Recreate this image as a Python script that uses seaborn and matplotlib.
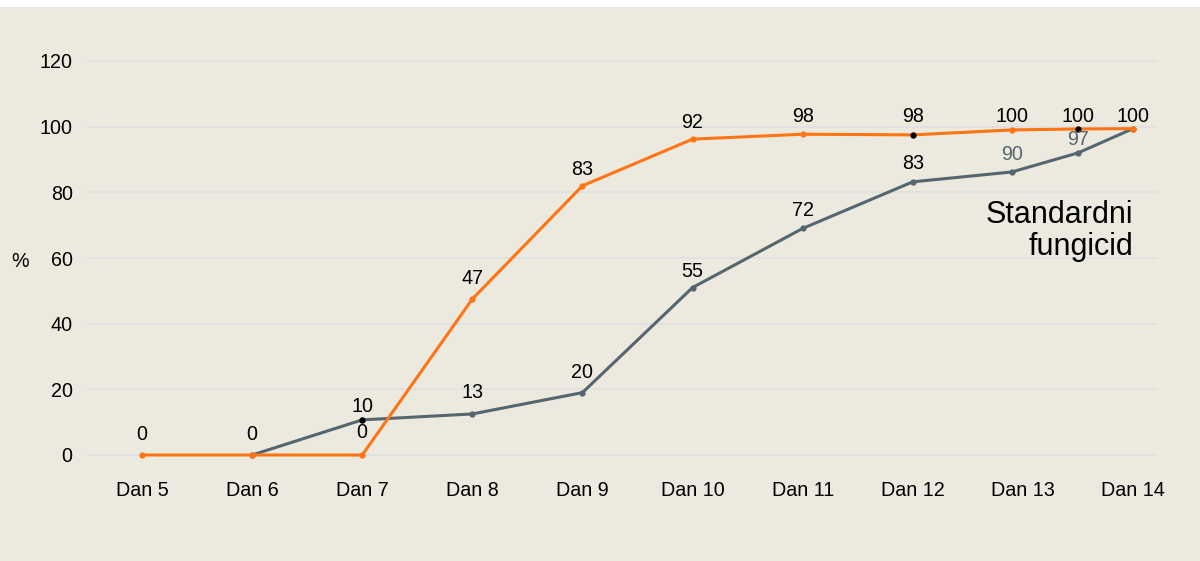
import matplotlib
matplotlib.use("Agg")
import matplotlib.pyplot as plt
import seaborn as sns
import pandas as pd
from matplotlib.patches import Rectangle

# ---- data ----
day_labels = ["Dan 5", "Dan 6", "Dan 7", "Dan 8", "Dan 9", "Dan 10",
              "Dan 11", "Dan 12", "Dan 13", "Dan 14"]
day_ticks = [0, 1, 2, 3, 4, 5, 6, 7, 8, 9]

orange_x = [0, 1, 2, 3, 4, 5, 6, 7, 7.9, 8.5, 9]
orange_y = [0, 0, 0, 47.5, 82, 96.2, 97.7, 97.5, 99, 99.3, 99.4]
orange_labels = ["0", "0", "0", "47", "83", "92", "98", "98", "100", "100", "100"]
orange_black_pts = [7, 9]

gray_x = [1, 2, 3, 4, 5, 6, 7, 7.9, 8.5, 9]
gray_y = [0, 10.7, 12.5, 19, 51, 69, 83.2, 86.2, 92, 99.4]
gray_labels = ["", "10", "13", "20", "55", "72", "83", "90", "97", ""]
gray_label_muted = [7, 8]
gray_black_pts = [1]

y_ticks = [0, 20, 40, 60, 80, 100, 120]
annotation_text = "Standardni\nfungicid"

# label offsets above points (pixels) - styling
orange_off_px = [20, 20, 22, 21, 16, 17, 18, 18, 13, 12, 12]
gray_off_px = [0, 13, 21, 20, 16, 18, 18, 17, 13, 0]

# ---- style ----
BG = "#ecE9de"
ORANGE = "#ff7414"
GRAY = "#56666f"
GRID = "#dfe2e2"

sns.set_theme(style="white")
plt.rcParams["font.family"] = ["Liberation Sans", "DejaVu Sans"]

W, H = 1200, 561
fig = plt.figure(figsize=(W / 100, H / 100), dpi=100)
fig.patch.set_facecolor(BG)
fig.patches.append(Rectangle((0, 1 - 7 / H), 1, 7 / H, transform=fig.transFigure,
                             facecolor="white", edgecolor="none", zorder=0))

left_px, right_px = 88, 1157
top_px, bot_px = 61, 455
ax = fig.add_axes([left_px / W, (H - bot_px) / H, (right_px - left_px) / W, (bot_px - top_px) / H])
ax.set_facecolor(BG)

x0_px, x9_px = 142, 1133
ppu = (x9_px - x0_px) / 9
ax.set_xlim(-(x0_px - left_px) / ppu, 9 + (right_px - x9_px) / ppu)
ax.set_ylim(0, 120)

for yt in y_ticks:
    ax.axhline(yt, color=GRID, lw=1.3, zorder=0, clip_on=False)

df_o = pd.DataFrame({"x": orange_x, "y": orange_y})
df_g = pd.DataFrame({"x": gray_x, "y": gray_y})

sns.lineplot(data=df_g, x="x", y="y", ax=ax, color=GRAY, lw=2.2, sort=False,
             marker="o", markersize=4.5, markeredgewidth=0, zorder=3, clip_on=False)
sns.lineplot(data=df_o, x="x", y="y", ax=ax, color=ORANGE, lw=2.2, sort=False,
             marker="o", markersize=4.5, markeredgewidth=0, zorder=4, clip_on=False)

for i in orange_black_pts:
    ax.plot(orange_x[i], orange_y[i], "o", color="black", ms=4.5, mew=0, zorder=6)
for i in gray_black_pts:
    ax.plot(gray_x[i], gray_y[i], "o", color="black", ms=4.5, mew=0, zorder=6)

FS = 14.2
PT = 72 / 100
for i, (x, y, t) in enumerate(zip(orange_x, orange_y, orange_labels)):
    ax.annotate(t, (x, y), xytext=(0, orange_off_px[i] * PT), textcoords="offset points",
                ha="center", va="center", fontsize=FS, color="black", zorder=7)
for i, (x, y, t) in enumerate(zip(gray_x, gray_y, gray_labels)):
    if not t:
        continue
    col = GRAY if i in gray_label_muted else "black"
    ax.annotate(t, (x, y), xytext=(0, gray_off_px[i] * PT), textcoords="offset points",
                ha="center", va="center", fontsize=FS, color=col, zorder=7)

ax.set_xticks(day_ticks)
ax.set_xticklabels(day_labels)
ax.set_yticks(y_ticks)
ax.set_yticklabels([str(v) for v in y_ticks])
ax.tick_params(axis="x", length=0, pad=19, labelsize=FS, colors="black")
ax.tick_params(axis="y", length=0, pad=11, labelsize=FS, colors="black")
ax.set_xlabel("")
ax.set_ylabel("")
for s in ax.spines.values():
    s.set_visible(False)
ax.grid(False)

fig.text(20 / W, 1 - 261 / H, "%", fontsize=FS, ha="center", va="center", color="black")
fig.text(1133 / W, 1 - 231 / H, annotation_text, fontsize=22, ha="right", va="center",
         multialignment="right", linespacing=1.1, color="black")

fig.savefig("out.png", dpi=100, facecolor=fig.get_facecolor())
